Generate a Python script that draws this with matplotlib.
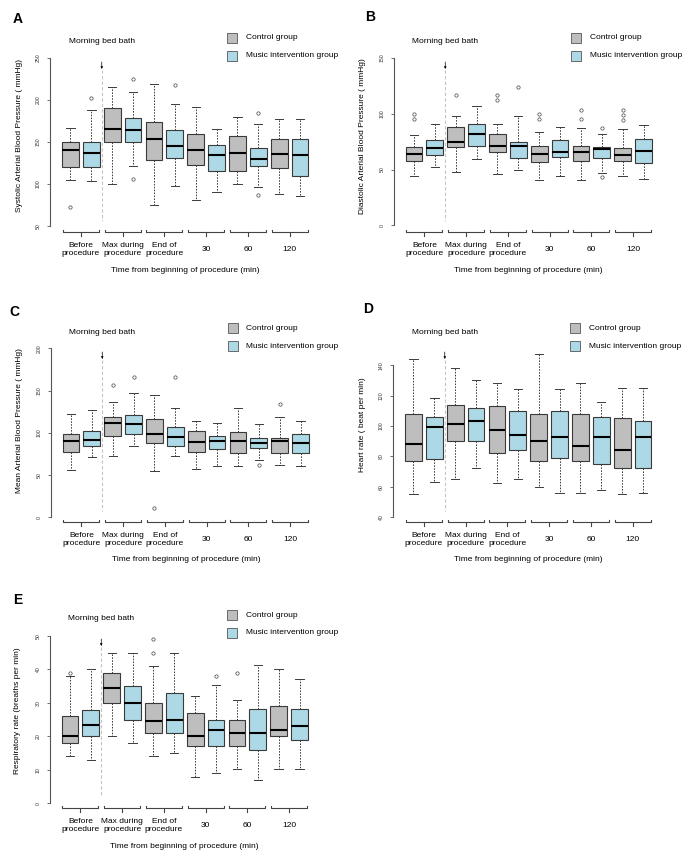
import matplotlib
matplotlib.use("Agg")
import matplotlib.pyplot as plt
import matplotlib.transforms as mtransforms
from matplotlib.patches import Rectangle

plt.rcParams["font.family"] = ["Liberation Sans", "DejaVu Sans"]

W, H = 686, 857

groups = ["Before\nprocedure", "Max during\nprocedure", "End of\nprocedure", "30", "60", "120"]
arms = ["Control group", "Music intervention group"]
arm_colors = ["#BEBEBE", "#ADD8E6"]
xlabel = "Time from beginning of procedure (min)"

# boxes in order: control, music for each time point
sbp_lo = [105, 103, 100, 122, 75, 98, 81, 91, 100, 96, 88, 86]
sbp_q1 = [120, 120, 150, 150, 128, 131, 123, 115, 115, 122, 119, 110]
sbp_med = [141, 137, 166, 164, 154, 145, 140, 134, 137, 130, 136, 134]
sbp_q3 = [150, 150, 190, 179, 174, 164, 159, 146, 157, 143, 153, 153]
sbp_hi = [167, 188, 215, 209, 219, 195, 192, 166, 180, 172, 177, 177]
sbp_out = [[73], [202], [], [225, 106], [], [218], [], [], [], [185, 87], [], []]

dbp_lo = [44.4, 52, 48, 59, 46, 50, 41, 44.4, 40.3, 46.5, 44, 42]
dbp_q1 = [58, 63, 70, 71, 66, 60, 57, 61.4, 58, 60, 57.5, 55.5]
dbp_med = [64, 69, 75, 82, 71, 71, 63.5, 66, 65.3, 68.3, 63.3, 66.5]
dbp_q3 = [70, 76.3, 88, 91, 82, 75, 71, 76, 71, 70, 69, 77]
dbp_hi = [80.5, 91, 98, 107, 91, 97.5, 84, 88, 86.8, 81.4, 86.5, 89.5]
dbp_out = [[95, 100], [], [117], [], [112, 117], [123.5], [95, 99.6], [], [95, 103],
           [87, 43], [94, 98.5, 103], []]

map_lo = [55.6, 71, 72.6, 84.4, 55.2, 72.6, 56.8, 60.3, 60.3, 67.4, 62.3, 60.7]
map_q1 = [77.7, 84.4, 95.9, 98.6, 88, 84, 77.7, 80.5, 75.7, 81.6, 76.5, 76.5]
map_med = [90, 91.5, 112, 110.4, 99, 95, 88.8, 90, 90.7, 88.4, 90, 88.4]
map_q3 = [98.6, 101.8, 118.3, 120.7, 116.8, 106.9, 101.8, 96.6, 100.6, 93.5, 93.5, 98.6]
map_hi = [122, 126.6, 136, 146.7, 145, 129.8, 113.6, 112, 129.8, 110.8, 119, 113.6]
map_out = [[], [], [156], [165.7], [10.6], [165.7], [], [], [], [61.9], [134], []]

hr_lo = [54.9, 63.3, 65.3, 72.5, 62.2, 65.3, 60, 56, 56, 58, 54.9, 56]
hr_q1 = [76.9, 78.2, 90.1, 90.1, 82, 84.2, 76.9, 79.1, 76.9, 75.2, 72.3, 72.3]
hr_med = [88.1, 99.3, 101.1, 103.3, 97.6, 94.3, 90.1, 92.5, 87, 92.5, 84.2, 92.5]
hr_q3 = [107.9, 106.2, 114.1, 112.1, 113.2, 110.1, 107.9, 110.1, 107.9, 106.2, 105, 103.1]
hr_hi = [144.4, 118.5, 138.5, 130.5, 128.4, 124.6, 147.7, 124.6, 128.4, 116, 125.3, 125.3]
hr_out = [[] for _ in range(12)]

rr_lo = [14, 13, 20, 18, 14, 15, 8, 9, 10.2, 7, 10.2, 10.2]
rr_q1 = [18, 20, 30, 25, 21, 21, 17, 17, 17, 16, 20, 19]
rr_med = [20, 23.5, 34.5, 30, 24.5, 25, 20, 22, 21, 21, 22, 23]
rr_q3 = [26, 28, 39, 35, 30, 33, 27, 25, 25, 28.2, 29, 28.2]
rr_hi = [38, 40, 45, 45, 41, 45, 32, 35.4, 31, 41.3, 40, 37]
rr_out = [[39], [], [], [], [45, 49], [], [], [38], [39], [], [], []]

# panel layout in pixels: letter, left, top, bottom, tick calibration, ylabel
panels = [
    dict(letter="A", pos=(18, 19), L=50, T=51, B=232.3,
         ticks=[50, 100, 150, 200, 250], cal=((50, 226), (250, 58)),
         ylabel="Systolic Arterial Blood Pressure ( mmHg)", ylab_xy=(20, 135),
         data=(sbp_lo, sbp_q1, sbp_med, sbp_q3, sbp_hi, sbp_out)),
    dict(letter="B", pos=(370.5, 17), L=393.5, T=51, B=232.3,
         ticks=[0, 50, 100, 150], cal=((0, 225.5), (150, 57.7)),
         ylabel="Diastolic Arterial Blood Pressure ( mmHg)", ylab_xy=(363, 136),
         data=(dbp_lo, dbp_q1, dbp_med, dbp_q3, dbp_hi, dbp_out)),
    dict(letter="C", pos=(14.5, 311.5), L=50.5, T=341, B=522,
         ticks=[0, 50, 100, 150, 200], cal=((0, 517.3), (200, 348.3)),
         ylabel="Mean Arterial Blood Pressure ( mmHg)", ylab_xy=(20, 421),
         data=(map_lo, map_q1, map_med, map_q3, map_hi, map_out)),
    dict(letter="D", pos=(368.5, 309), L=393, T=341, B=522,
         ticks=[40, 60, 80, 100, 120, 140], cal=((40, 517), (140, 365.3)),
         ylabel="Heart rate ( beat per min)", ylab_xy=(363, 425),
         data=(hr_lo, hr_q1, hr_med, hr_q3, hr_hi, hr_out)),
    dict(letter="E", pos=(17.5, 600), L=49.5, T=628, B=808.3,
         ticks=[0, 10, 20, 30, 40, 50], cal=((0, 803.3), (50, 636)),
         ylabel="Respiratory rate (breaths per min)", ylab_xy=(17.5, 711),
         data=(rr_lo, rr_q1, rr_med, rr_q3, rr_hi, rr_out)),
]

AX_W = 270.5
XLIM = (0.02, 12.98)
FS = 6

fig = plt.figure(figsize=(W / 100, H / 100), dpi=100)

for p in panels:
    L, T, B = p["L"], p["T"], p["B"]
    h = B - T
    ax = fig.add_axes([L / W, 1 - B / H, AX_W / W, h / H])
    (v0, p0), (v1, p1) = p["cal"]
    scale = (v1 - v0) / (p0 - p1)
    ax.set_ylim(v0 - (B - p0) * scale, v1 + (p1 - T) * scale)
    ax.set_xlim(*XLIM)

    lo, q1, med, q3, hi, out = p["data"]
    stats = [dict(whislo=lo[i], q1=q1[i], med=med[i], q3=q3[i], whishi=hi[i], fliers=out[i])
             for i in range(len(med))]
    positions = list(range(1, len(stats) + 1))
    bp = ax.bxp(stats, positions=positions, widths=0.8, capwidths=0.4, patch_artist=True,
                boxprops=dict(edgecolor="#3a3a3a", linewidth=0.8),
                medianprops=dict(color="black", linewidth=1.5, solid_capstyle="butt"),
                whiskerprops=dict(color="#3a3a3a", linewidth=0.7, linestyle=(0, (1.6, 1.4))),
                capprops=dict(color="#3a3a3a", linewidth=0.7),
                flierprops=dict(marker="o", markersize=2.4, markerfacecolor="none",
                                markeredgecolor="#444444", markeredgewidth=0.5))
    for i, patch in enumerate(bp["boxes"]):
        patch.set_facecolor(arm_colors[i % 2])

    # axes look
    for s in ["top", "right", "bottom"]:
        ax.spines[s].set_visible(False)
    ax.spines["left"].set_bounds(p["ticks"][0], p["ticks"][-1])
    ax.spines["left"].set_color("#555555")
    ax.spines["left"].set_linewidth(0.8)
    ax.set_xticks([])
    ax.set_yticks(p["ticks"])
    ax.set_yticklabels([str(t) for t in p["ticks"]])
    ax.tick_params(axis="y", length=2.4, width=0.6, color="#555555", labelsize=3.7,
                   labelcolor="#333333", pad=4.0, labelrotation=90)
    for lbl in ax.get_yticklabels():
        lbl.set_va("center")

    blend = mtransforms.blended_transform_factory(ax.transData, ax.transAxes)
    px = 1.0 / h

    # grouped bracket axis
    for g, name in enumerate(groups):
        c = 2 * g + 1.5
        ax.plot([c - 0.86, c - 0.86, c + 0.86, c + 0.86], [2.3 * px, 0, 0, 2.3 * px],
                transform=blend, color="#444444", lw=0.8, clip_on=False)
        ax.plot([c, c], [0, -3.7 * px], transform=blend, color="#444444", lw=0.8, clip_on=False)
        ax.text(c, -17.2 * px, name, transform=blend, ha="center", va="center",
                fontsize=FS, linespacing=1.15)
    ax.text(0.5, -37.7 * px, xlabel, transform=ax.transAxes, ha="center", va="center", fontsize=FS)

    # procedure marker
    ax.plot([2.5, 2.5], [1 - 19 * px, 11 * px], transform=blend, color="#C4C4C4",
            lw=0.8, linestyle=(0, (3, 2)), clip_on=False)
    ax.annotate("", xy=(2.5, 1 - 18 * px), xytext=(2.5, 1 - 11 * px), xycoords=blend,
                textcoords=blend,
                arrowprops=dict(arrowstyle="-|>", lw=0.5, color="black", mutation_scale=3,
                                shrinkA=0, shrinkB=0))
    ax.text(2.5, 1 + 9 * px, "Morning bed bath", transform=blend, ha="center", va="center",
            fontsize=FS)

    # legend
    for k, (name, col) in enumerate(zip(arms, arm_colors)):
        ytop = -18 + 18 * k
        ax.add_patch(Rectangle((177 / AX_W, 1 - (ytop + 10) * px), 10 / AX_W, 10 * px,
                               transform=ax.transAxes, clip_on=False, facecolor=col,
                               edgecolor="#555555", lw=0.6))
        ax.text(196 / AX_W, 1 - (ytop + 5) * px, name, transform=ax.transAxes,
                ha="left", va="center", fontsize=FS)

    fig.text(p["ylab_xy"][0] / W, 1 - p["ylab_xy"][1] / H, p["ylabel"], rotation=90,
             ha="center", va="center", fontsize=FS)
    fig.text(p["pos"][0] / W, 1 - p["pos"][1] / H, p["letter"], ha="center", va="center",
             fontsize=10, fontweight="bold")

fig.savefig("out.png", dpi=100)
